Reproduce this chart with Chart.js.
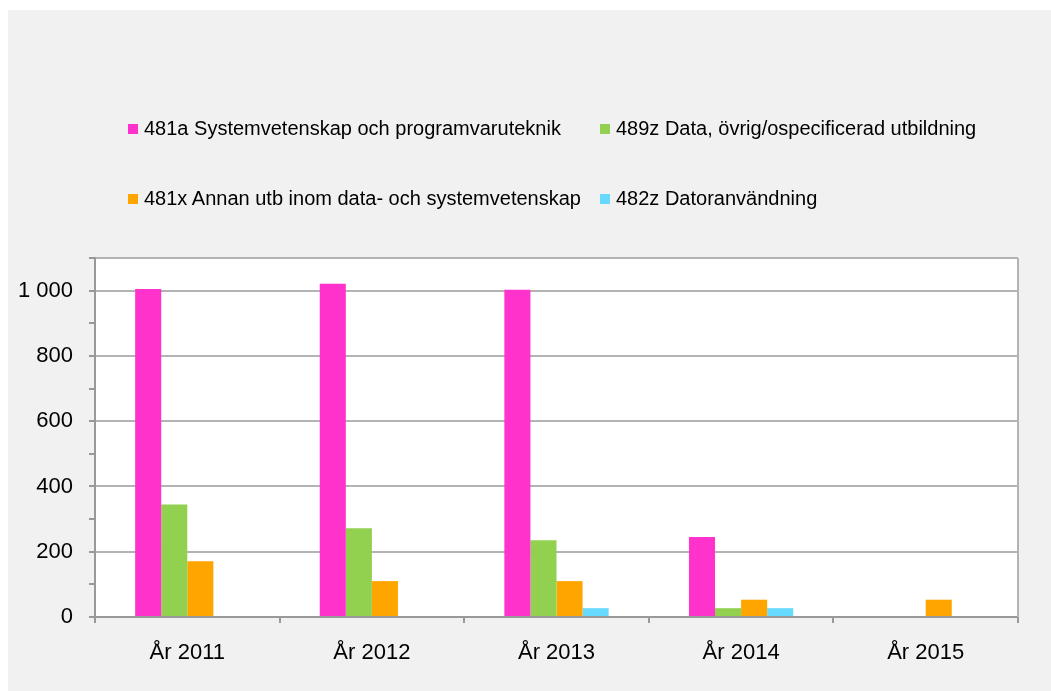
<!DOCTYPE html>
<html>
<head>
<meta charset="utf-8">
<script src="https://cdn.jsdelivr.net/npm/chart.js@4"></script>
<style>
  body { margin: 0; background: #fff; font-family: "Liberation Sans", Arial, sans-serif; }
  #panel { position: absolute; left: 8px; top: 10px; width: 1043px; height: 681px; background: #f1f1f1; }
  #legend { position: absolute; left: 0; top: 0; width: 100%; }
  .item { position: absolute; font-size: 20px; color: #000; white-space: nowrap; }
  .box { display: inline-block; width: 10px; height: 10px; margin-right: 6px; vertical-align: 1px; }
</style>
</head>
<body>
<div id="panel">
  <canvas id="chart" width="1043" height="681"></canvas>
  <div id="legend"></div>
</div>
<script>
// categories and series
const years = ['År 2011', 'År 2012', 'År 2013', 'År 2014', 'År 2015'];
const s481a = [1005, 1021, 1003, 245, 0];
const s489z = [345, 272, 235, 27, 0];
const s481x = [171, 110, 110, 53, 53];
const s482z = [0, 0, 27, 27, 0];
const seriesNames = [
  '481a Systemvetenskap och programvaruteknik',
  '489z Data, övrig/ospecificerad utbildning',
  '481x Annan utb inom data- och systemvetenskap',
  '482z Datoranvändning'
];
const colors = ['#ff33cc', '#92d050', '#ffa500', '#66d9ff'];

const gridGray = '#b3b3b3';
const axisGray = '#999999';

// white plot area + right border
const plotArea = {
  id: 'plotArea',
  beforeDraw(chart) {
    const { ctx, chartArea: a } = chart;
    ctx.save();
    ctx.fillStyle = '#ffffff';
    ctx.fillRect(a.left, a.top, a.right - a.left, a.bottom - a.top);
    ctx.restore();
  },
  afterDatasetsDraw(chart) {
    const { ctx, chartArea: a } = chart;
    ctx.save();
    ctx.strokeStyle = gridGray;
    ctx.lineWidth = 2;
    ctx.beginPath();
    ctx.moveTo(a.right, a.top);
    ctx.lineTo(a.right, a.bottom);
    ctx.stroke();
    ctx.restore();
  }
};

const chart = new Chart(document.getElementById('chart').getContext('2d'), {
  type: 'bar',
  data: {
    labels: years,
    datasets: [s481a, s489z, s481x, s482z].map((d, i) => ({
      label: seriesNames[i],
      data: d,
      backgroundColor: colors[i],
      borderWidth: 0,
      categoryPercentage: 0.565,
      barPercentage: 1
    }))
  },
  options: {
    responsive: false,
    animation: false,
    layout: { padding: { top: 248, right: 33, left: 0, bottom: 0 } },
    plugins: { legend: { display: false }, tooltip: { enabled: false } },
    scales: {
      x: {
        grid: { color: 'transparent', tickColor: axisGray, tickLength: 6, offset: true, lineWidth: 2 },
        border: { color: axisGray, width: 2 },
        ticks: { color: '#000', font: { family: 'Liberation Sans', size: 22 }, padding: 17 },
        afterFit: s => { s.height = 74; }
      },
      y: {
        min: 0,
        max: 1100,
        ticks: {
          stepSize: 100,
          color: '#000',
          font: { family: 'Liberation Sans', size: 22 },
          padding: 16,
          callback: v => (v % 200 === 0 && v <= 1000) ? (v >= 1000 ? '1 000' : String(v)) : ''
        },
        grid: {
          color: c => (c.tick && (c.tick.value % 200 === 0 || c.tick.value === 1100) && c.tick.value > 0) ? gridGray : 'transparent',
          tickColor: axisGray,
          tickLength: 6,
          lineWidth: 2
        },
        border: { color: axisGray, width: 2 },
        afterFit: s => { s.width = 87; }
      }
    }
  },
  plugins: [plotArea]
});

// legend in two columns, built from the datasets
const legendPos = [[120, 107], [592, 107], [120, 177], [592, 177]];
const legend = document.getElementById('legend');
chart.data.datasets.forEach((ds, i) => {
  const el = document.createElement('div');
  el.className = 'item';
  el.style.left = legendPos[i][0] + 'px';
  el.style.top = legendPos[i][1] + 'px';
  el.innerHTML = '<span class="box" style="background:' + ds.backgroundColor + '"></span>' + ds.label;
  legend.appendChild(el);
});
</script>
</body>
</html>
